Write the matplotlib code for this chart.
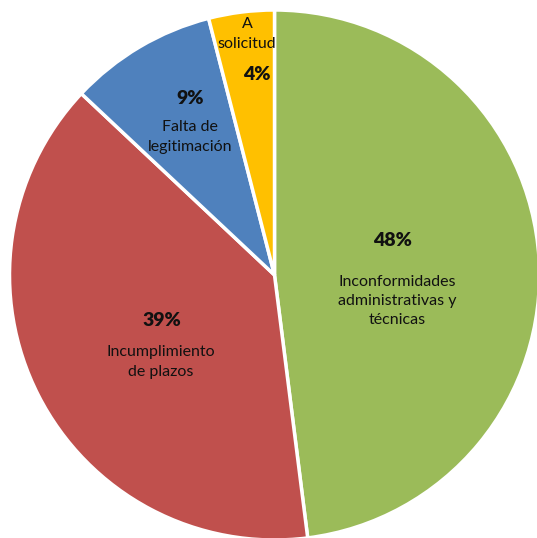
import matplotlib
matplotlib.use("Agg")
import matplotlib.pyplot as plt

categories = ["Inconformidades\nadministrativas y\ntécnicas", "Incumplimiento\nde plazos", "Falta de\nlegitimación", "A\nsolicitud"]
values = [48, 39, 9, 4]
pct_labels = ["48%", "39%", "9%", "4%"]
colors = ["#9BBB59", "#C0504D", "#4F81BD", "#FFC000"]

CX, CY, R = 274.5, 275, 265
def px(x, y):
    return ((x - CX) / R, (CY - y) / R)

fig = plt.figure(figsize=(5.37, 5.38), dpi=100)
ax = fig.add_axes([0, 0, 1, 1])
ax.pie(values, colors=colors, startangle=90, counterclock=False, radius=1,
       wedgeprops=dict(edgecolor="white", linewidth=2.5))
ax.set_xlim(-CX / R, (537 - CX) / R)
ax.set_ylim(-(538 - CY) / R, CY / R)
ax.set_aspect("equal")
ax.axis("off")

fam = ["Lato", "DejaVu Sans"]
pct_pos = [(393, 241), (162, 320), (190, 98), (257, 75)]
name_pos = [(397, 301), (161, 362), (190, 137), (247, 34)]
for i in range(len(values)):
    x, y = px(*pct_pos[i])
    ax.text(x, y, pct_labels[i], ha="center", va="center", fontsize=14,
            fontweight="heavy", family=fam, color="#111111")
    x, y = px(*name_pos[i])
    ax.text(x, y, categories[i], ha="center", va="center", fontsize=11.5,
            family=fam, color="#111111", linespacing=1.5)

fig.savefig("out.png", dpi=100)
